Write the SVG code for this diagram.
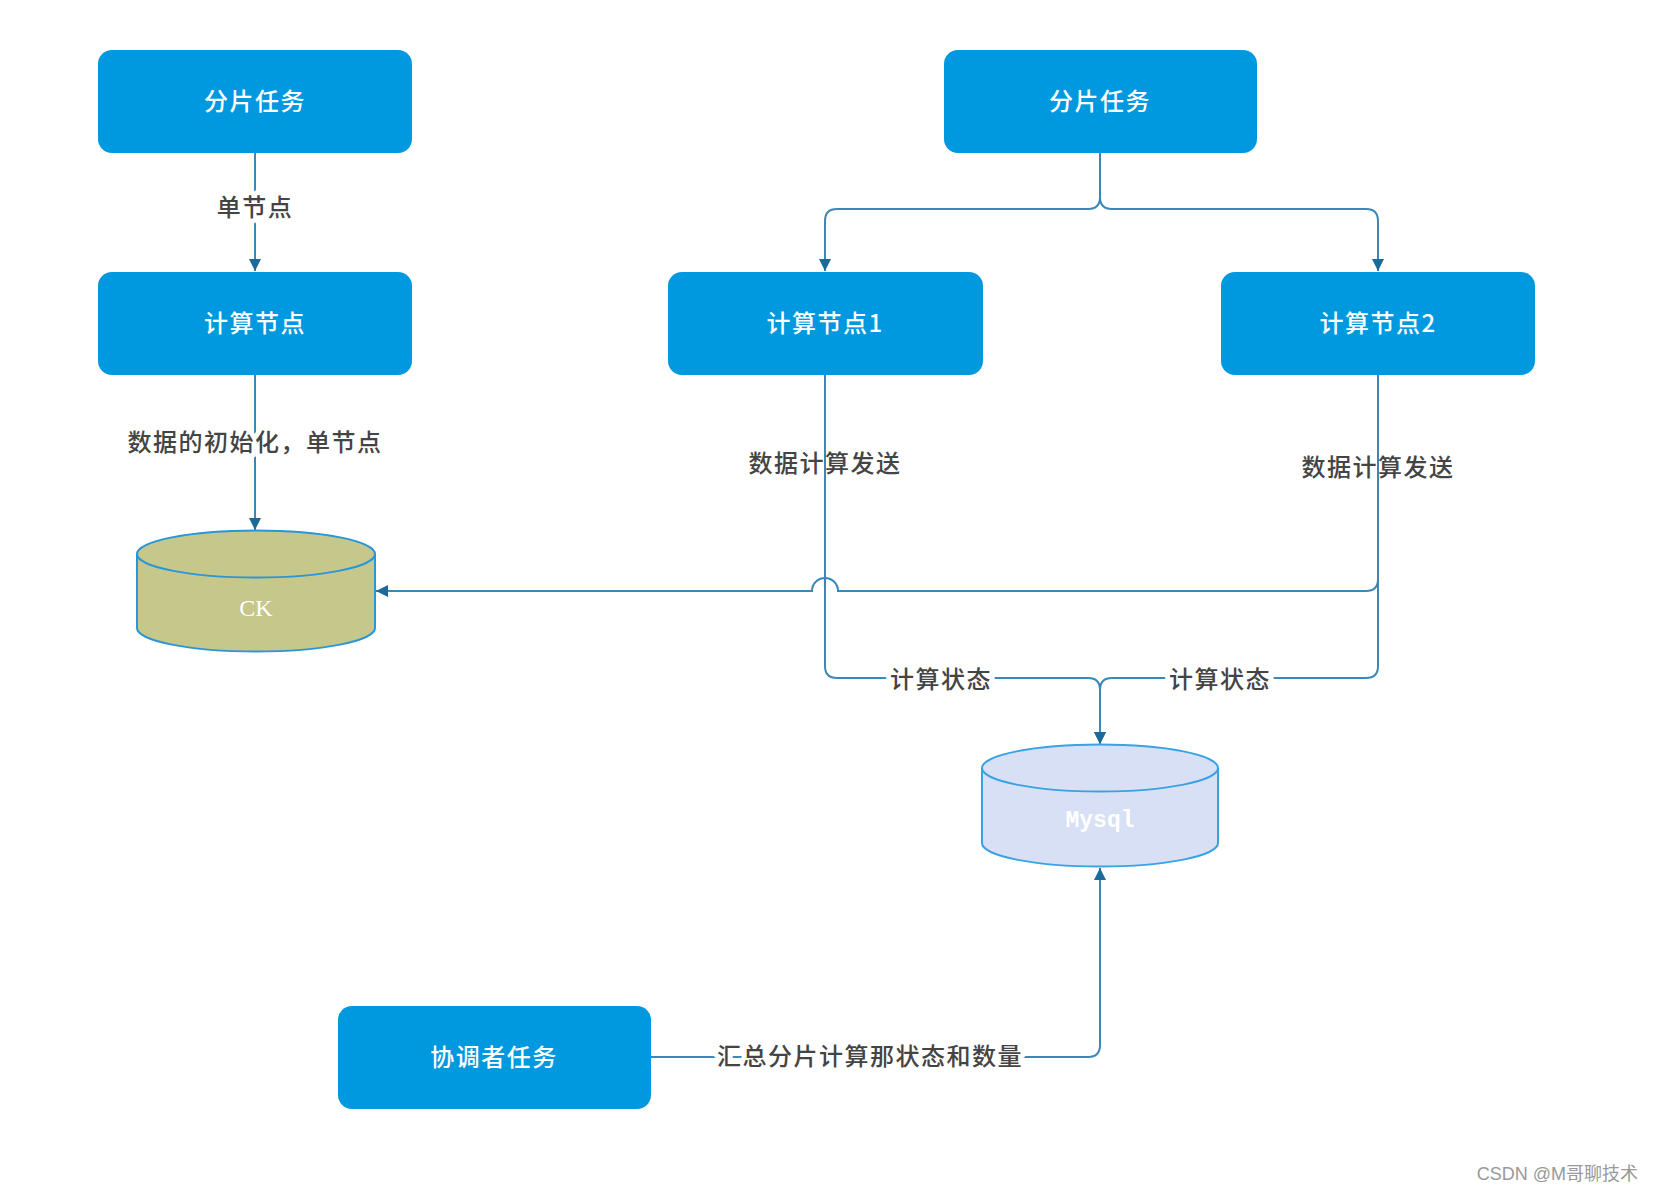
<svg xmlns="http://www.w3.org/2000/svg" width="1654" height="1194" viewBox="0 0 1654 1194">
<defs>
<style>
.box{fill:#0099E0;}
.bt{fill:#ffffff;font-family:"Noto Sans CJK SC","Noto Sans",sans-serif;font-size:24px;font-weight:500;text-anchor:middle;dominant-baseline:central;letter-spacing:1.5px;}
.edge{fill:none;stroke:#3A87B8;stroke-width:2;}
.lbl{fill:#444444;font-family:"Noto Sans CJK SC","Noto Sans",sans-serif;font-size:24px;font-weight:500;text-anchor:middle;dominant-baseline:central;letter-spacing:1.5px;}
.halo{stroke:#ffffff;stroke-width:10px;paint-order:stroke;stroke-linejoin:round;}
</style>
<marker id="arr" markerUnits="userSpaceOnUse" markerWidth="16" markerHeight="16" viewBox="0 0 16 16" refX="14" refY="8" orient="auto">
<path d="M2,2 L14,8 L2,14 Z" fill="#1B6A99"/>
</marker>
</defs>
<rect width="1654" height="1194" fill="#ffffff"/>

<g id="connectors">
<path class="edge" d="M255,153 V271" marker-end="url(#arr)"/>
<path class="edge" d="M255,375 V530" marker-end="url(#arr)"/>
<path class="edge" d="M1100,153 V197 q0,12 -12,12 H837 q-12,0 -12,12 V271" marker-end="url(#arr)"/>
<path class="edge" d="M1100,153 V197 q0,12 12,12 H1366 q12,0 12,12 V271" marker-end="url(#arr)"/>
<path class="edge" d="M825,375 V666 q0,12 12,12 H1088 q12,0 12,12 V744" marker-end="url(#arr)"/>
<path class="edge" d="M1378,375 V666 q0,12 -12,12 H1112 q-12,0 -12,12 V744" marker-end="url(#arr)"/>
<path class="edge" d="M1378,375 V579 q0,12 -12,12 H838 a13,13 0 0 0 -26,0 H376" marker-end="url(#arr)"/>
<path class="edge" d="M651,1057 H1088 q12,0 12,-12 V868" marker-end="url(#arr)"/>
<text class="lbl halo" x="255" y="205">单节点</text>
<text class="lbl halo" x="255" y="440">数据的初始化，单节点</text>
<text class="lbl" x="825" y="461">数据计算发送</text>
<text class="lbl" x="1378" y="465">数据计算发送</text>
<text class="lbl halo" x="941" y="677">计算状态</text>
<text class="lbl halo" x="1220" y="677">计算状态</text>
<text class="lbl halo" x="870" y="1054">汇总分片计算那状态和数量</text>
</g>

<g id="task-left">
<rect class="box" x="98" y="50" width="314" height="103" rx="14"/>
<text class="bt" x="255" y="99">分片任务</text>
</g>
<g id="compute-node">
<rect class="box" x="98" y="272" width="314" height="103" rx="14"/>
<text class="bt" x="255" y="321">计算节点</text>
</g>
<g id="task-right">
<rect class="box" x="944" y="50" width="313" height="103" rx="14"/>
<text class="bt" x="1100" y="99">分片任务</text>
</g>
<g id="compute-node-1">
<rect class="box" x="668" y="272" width="315" height="103" rx="14"/>
<text class="bt" x="825" y="321">计算节点1</text>
</g>
<g id="compute-node-2">
<rect class="box" x="1221" y="272" width="314" height="103" rx="14"/>
<text class="bt" x="1378" y="321">计算节点2</text>
</g>
<g id="coordinator">
<rect class="box" x="338" y="1006" width="313" height="103" rx="14"/>
<text class="bt" x="494" y="1055">协调者任务</text>
</g>

<g id="ck">
<path d="M137,554 a119,23.5 0 0 1 238,0 v74 a119,23.5 0 0 1 -238,0 z" fill="#C6C78B" stroke="#2A96D8" stroke-width="2"/>
<path d="M137,554 a119,23.5 0 0 0 238,0" fill="none" stroke="#2A96D8" stroke-width="2"/>
<text x="256" y="608" fill="#ffffff" font-family="Liberation Serif, serif" font-size="24" text-anchor="middle" dominant-baseline="central">CK</text>
</g>
<g id="mysql">
<path d="M982,768 a118,23.5 0 0 1 236,0 v75 a118,23.5 0 0 1 -236,0 z" fill="#D7E0F5" stroke="#3AA2E2" stroke-width="2"/>
<path d="M982,768 a118,23.5 0 0 0 236,0" fill="none" stroke="#3AA2E2" stroke-width="2"/>
<text x="1100" y="821" fill="#ffffff" font-family="Liberation Mono, monospace" font-size="23" font-weight="bold" text-anchor="middle" dominant-baseline="central">Mysql</text>
</g>

<text x="1638" y="1174" fill="#999999" font-family="Liberation Sans, 'Noto Sans CJK SC', sans-serif" font-size="18" text-anchor="end" dominant-baseline="central">CSDN @M哥聊技术</text>
</svg>
